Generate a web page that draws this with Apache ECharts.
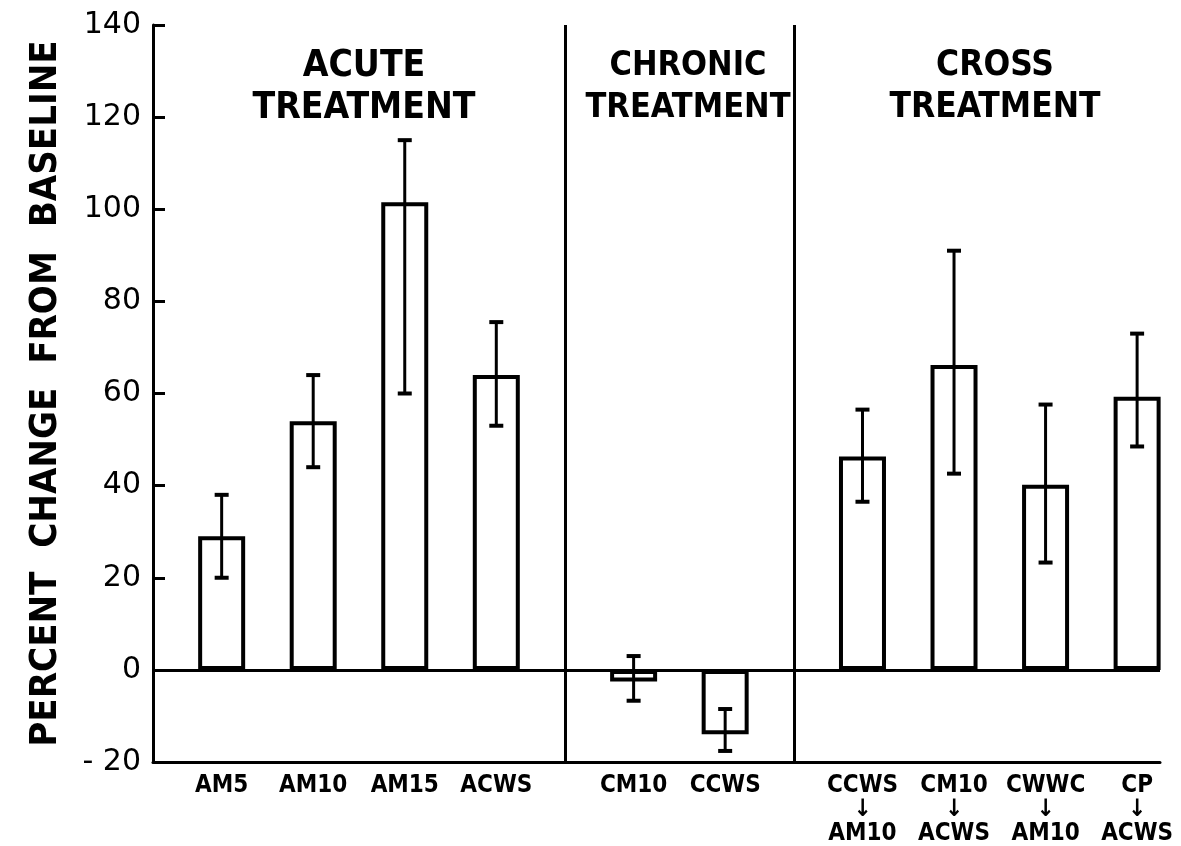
<!DOCTYPE html>
<html><head><meta charset="utf-8">
<script src="https://cdn.jsdelivr.net/npm/echarts@6/dist/echarts.min.js"></script>
<style>html,body{margin:0;padding:0;background:#fff}#c{width:1181px;height:846px}</style>
</head><body><div id="c"></div>
<script>
// ---- data ----
const groupNames = ['ACUTE\nTREATMENT', 'CHRONIC\nTREATMENT', 'CROSS\nTREATMENT'];
const acuteLabels = ['AM5', 'AM10', 'AM15', 'ACWS'];
const acuteMeans  = [29, 54, 101.5, 64];
const acuteLow    = [20, 44, 60, 53];
const acuteHigh   = [38, 64, 115, 75.5];
const chronicLabels = ['CM10', 'CCWS'];
const chronicMeans  = [-2.5, -14];
const chronicLow    = [-6.7, -17.6];
const chronicHigh   = [3, -8.5];
const crossLabels = ['CCWS\n↓\nAM10', 'CM10\n↓\nACWS', 'CWWC\n↓\nAM10', 'CP\n↓\nACWS'];
const crossMeans  = [46.3, 66.2, 40.2, 59.3];
const crossLow    = [36.5, 42.6, 23.3, 48.5];
const crossHigh   = [56.5, 91, 57.6, 73];
const yTicks = [-20, 0, 20, 40, 60, 80, 100, 120, 140];

// ---- build slotted category axis (spacer before each bar, extra spacer before each new group) ----
const groups = [
  {labels: acuteLabels, means: acuteMeans, low: acuteLow, high: acuteHigh},
  {labels: chronicLabels, means: chronicMeans, low: chronicLow, high: chronicHigh},
  {labels: crossLabels, means: crossMeans, low: crossLow, high: crossHigh}
];
const cats = [], barData = [], errData = [], dividers = [];
let sp = 0;
groups.forEach((g, gi) => {
  if (gi > 0) { cats.push('_s' + (sp++)); barData.push('-'); dividers.push(cats.length); }
  g.labels.forEach((lab, i) => {
    cats.push('_s' + (sp++)); barData.push('-');
    errData.push([cats.length, g.low[i], g.high[i]]);
    cats.push(lab); barData.push(g.means[i]);
  });
});

const condensed = "'DejaVu Sans Condensed','Liberation Sans Narrow','DejaVu Sans',sans-serif";
const titleStyle = (fs) => ({fontFamily: condensed, fontWeight: 'bold', fontSize: fs, lineHeight: 42, color: '#000'});

const chart = echarts.init(document.getElementById('c'), null, {renderer: 'canvas'});
chart.setOption({
  animation: false,
  backgroundColor: '#fff',
  title: [
    {text: groupNames[0], left: 359, top: 40, textAlign: 'center', textStyle: titleStyle(37)},
    {text: groupNames[1], left: 683, top: 40, textAlign: 'center', textStyle: titleStyle(34)},
    {text: groupNames[2], left: 990, top: 40, textAlign: 'center', textStyle: titleStyle(35)}
  ],
  grid: {left: 153, right: 21, top: 25, bottom: 84},
  xAxis: [{
    type: 'category', data: cats, boundaryGap: true,
    axisLine: {onZero: false, lineStyle: {color: '#000', width: 3}},
    axisTick: {show: false},
    splitLine: {show: false},
    axisLabel: {interval: 0, margin: 12, color: '#000', fontFamily: condensed, fontWeight: 'bold', fontSize: 24, lineHeight: 24,
      formatter: v => v.startsWith('_s') ? '' : v}
  }, {
    type: 'value', min: 0, max: cats.length, show: false
  }],
  yAxis: {
    type: 'value', min: yTicks[0], max: yTicks[yTicks.length - 1], interval: 20,
    name: 'PERCENT  CHANGE  FROM  BASELINE', nameLocation: 'middle', nameRotate: 90, nameGap: 88,
    nameTextStyle: {fontFamily: condensed, fontWeight: 'bold', fontSize: 38, color: '#000'},
    axisLine: {show: true, lineStyle: {color: '#000', width: 3}},
    axisTick: {show: true, inside: true, length: 12, lineStyle: {color: '#000', width: 3}},
    splitLine: {show: false},
    axisLabel: {color: '#000', fontFamily: "'DejaVu Sans',sans-serif", fontSize: 30, margin: 12,
      formatter: v => (v < 0 ? '- ' + Math.abs(v) : String(v))}
  },
  series: [
    {
      type: 'bar', data: barData, barWidth: 47,
      itemStyle: {color: '#fff', borderColor: '#000', borderWidth: 4},
      markLine: {silent: true, symbol: 'none', label: {show: false},
        lineStyle: {color: '#000', width: 3, type: 'solid'}, data: [{yAxis: 0}]}
    },
    {
      type: 'line', xAxisIndex: 1, data: [], silent: true,
      markLine: {silent: true, symbol: 'none', label: {show: false},
        lineStyle: {color: '#000', width: 3, type: 'solid'},
        data: dividers.map(d => ({xAxis: d}))}
    },
    {
      type: 'custom', data: errData,
      renderItem: (params, api) => {
        const x = api.value(0);
        const lo = api.coord([x, api.value(1)]);
        const hi = api.coord([x, api.value(2)]);
        const w = 7;
        return {type: 'group', children: [
          {type: 'line', shape: {x1: lo[0], y1: lo[1], x2: hi[0], y2: hi[1]}, style: {stroke: '#000', lineWidth: 3}},
          {type: 'line', shape: {x1: lo[0] - w, y1: lo[1], x2: lo[0] + w, y2: lo[1]}, style: {stroke: '#000', lineWidth: 4}},
          {type: 'line', shape: {x1: hi[0] - w, y1: hi[1], x2: hi[0] + w, y2: hi[1]}, style: {stroke: '#000', lineWidth: 4}}
        ]};
      },
      z: 5
    }
  ]
});
</script></body></html>
